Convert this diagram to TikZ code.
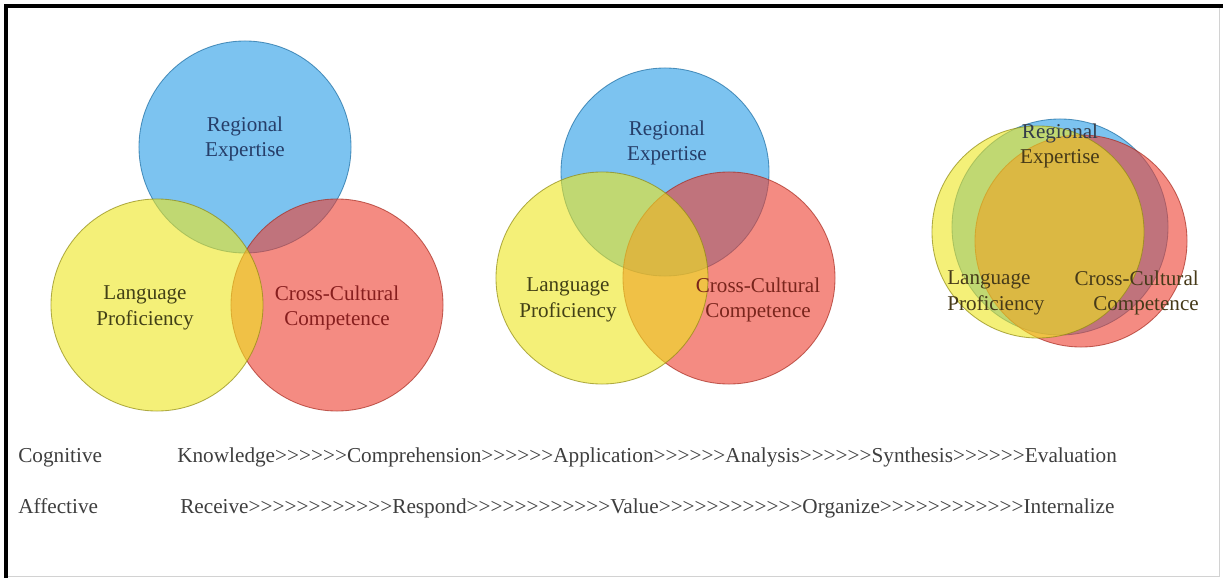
\documentclass[tikz,border=0pt]{standalone}
\usepackage{fontspec}
\setmainfont{Liberation Serif}[Ligatures=TeXOff]
\usepackage{xcolor}
\usetikzlibrary{positioning}

\definecolor{reblue}{RGB}{38,155,230}
\definecolor{lpyellow}{RGB}{238,230,30}
\definecolor{ccred}{RGB}{238,63,47}
\definecolor{retext}{RGB}{38,62,105}
\definecolor{lptext}{RGB}{66,64,22}
\definecolor{cctext}{RGB}{135,30,30}
\definecolor{mixtext}{RGB}{70,58,25}
\definecolor{rowgrey}{RGB}{62,62,62}

\tikzset{
  venn/.style={fill opacity=0.6, draw opacity=0.7, line width=0.6pt},
  lbl/.style={font=\fontsize{15}{18}\selectfont, align=center, inner sep=0pt},
  rowtext/.style={font=\fontsize{15.1}{18}\selectfont, text=rowgrey, anchor=base west, inner sep=0pt}
}

\begin{document}
\begin{tikzpicture}[x=0.025cm,y=-0.025cm]
      \useasboundingbox (0,0) rectangle (1223,578);
      \fill[white] (0,0) rectangle (1223,578);
      \draw[gray!35, line width=0.6pt] (1219,6) -- (1219,576) -- (6,576);
      \draw[black, line width=2.2pt] (6,578) -- (6,6) -- (1223,6);
      % three circles apart
      \draw[venn, fill=reblue, draw=reblue!70!black] (245,147) circle[radius=2.65cm];
      \draw[venn, fill=ccred, draw=ccred!70!black] (337,305) circle[radius=2.65cm];
      \draw[venn, fill=lpyellow, draw=lpyellow!60!black] (157,305) circle[radius=2.65cm];
      \node[lbl, text=retext] (re1) at (245,139) {Regional\\Expertise};
      \node[lbl, text=lptext] (lp1) at (145,308) {Language\\Proficiency};
      \node[lbl, text=cctext] (cc1) at (337,308) {Cross-Cultural\\Competence};
      % three circles closer
      \draw[venn, fill=reblue, draw=reblue!70!black] (665,172) circle[radius=2.6cm];
      \draw[venn, fill=ccred, draw=ccred!70!black] (729,278) circle[radius=2.65cm];
      \draw[venn, fill=lpyellow, draw=lpyellow!60!black] (602,278) circle[radius=2.65cm];
      \node[lbl, text=retext] (re2) at (667,143) {Regional\\Expertise};
      \node[lbl, text=lptext] (lp2) at (568,300) {Language\\Proficiency};
      \node[lbl, text=cctext!80!lptext] (cc2) at (758,300) {Cross-Cultural\\Competence};
      % three circles nearly one
      \draw[venn, fill=reblue, draw=reblue!70!black] (1060,227) circle[radius=2.7cm];
      \draw[venn, fill=ccred, draw=ccred!70!black] (1081,241) circle[radius=2.65cm];
      \draw[venn, fill=lpyellow, draw=lpyellow!60!black] (1038,232) circle[radius=2.65cm];
      \node[lbl, text=mixtext] (re3) at (1060,146) {\textcolor{retext!60!mixtext}{Regional}\\Expertise};
      \node[lbl, text=mixtext, align=left, anchor=west] (lp3) at (947,293) {Language\\Proficiency};
      \node[lbl, text=mixtext, align=right, anchor=east] (cc3) at (1199,293) {Cross-Cultural\\Competence};
      % rows below
      \node[rowtext] (cog) at (18,462) {Cognitive};
      \node[rowtext] (cogrow) at (177,462) {Knowledge>>>>>>Comprehension>>>>>>Application>>>>>>Analysis>>>>>>Synthesis>>>>>>Evaluation};
      \node[rowtext] (aff) at (18,513) {Affective};
      \node[rowtext] (affrow) at (180,513) {Receive>>>>>>>>>>>>Respond>>>>>>>>>>>>Value>>>>>>>>>>>>Organize>>>>>>>>>>>>Internalize};
\end{tikzpicture}
\end{document}
